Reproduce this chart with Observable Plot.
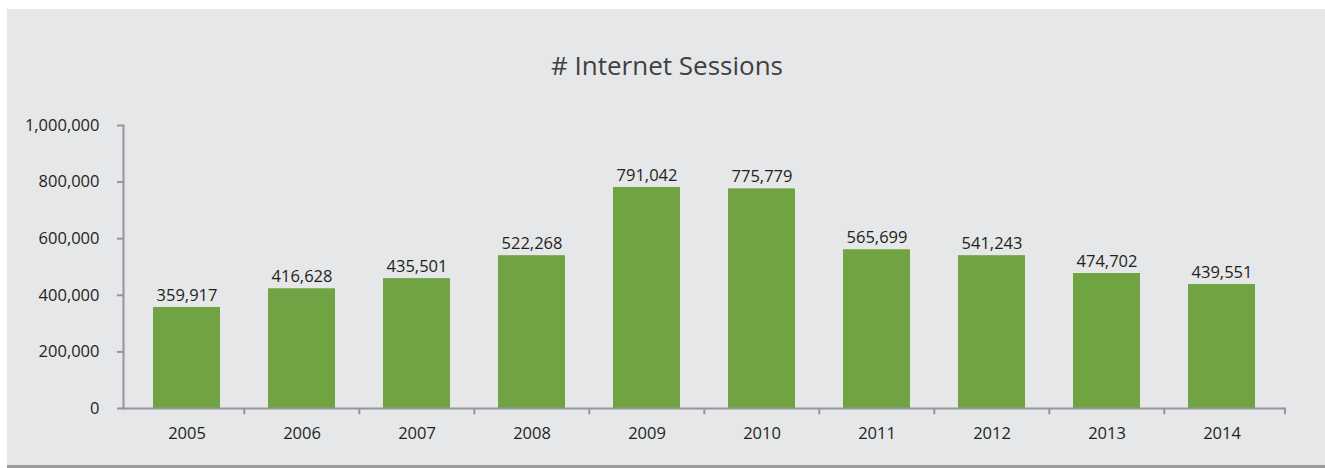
<!DOCTYPE html>
<html>
<head>
<meta charset="utf-8">
<script src="https://cdn.jsdelivr.net/npm/d3@7"></script>
<script src="https://cdn.jsdelivr.net/npm/@observablehq/plot@0.6"></script>
<style>
  html, body { margin: 0; padding: 0; background: #e6e7e8; overflow: hidden; }
  #wrap { position: relative; width: 1325px; height: 468px; overflow: hidden; background: #ffffff; }
  #panel { position: absolute; left: 7px; top: 9px; width: 1318px; height: 456px; background: #e6e7e8; border-bottom: 3px solid #9a9b9d; }
  #title { position: absolute; left: 0; width: 1334px; top: 47px; text-align: center;
           font-family: "Open Sans", sans-serif; font-size: 26px; color: #414042; line-height: 36px; }
  #chart { position: absolute; left: 0; top: 0; }
  #chart svg { background: transparent; }
</style>
</head>
<body>
<div id="wrap">
  <div id="panel"></div>
  <div id="title"># Internet Sessions</div>
  <div id="chart"></div>
</div>
<script>
const years = ["2005", "2006", "2007", "2008", "2009", "2010", "2011", "2012", "2013", "2014"];
// data labels printed above the bars
const sessions = [359917, 416628, 435501, 522268, 791042, 775779, 565699, 541243, 474702, 439551];
// bar heights as drawn in the picture
const barHeights = [357000, 423000, 459000, 540000, 781000, 776000, 561000, 540000, 477000, 438000];
const yTicks = [0, 200000, 400000, 600000, 800000, 1000000];

const data = years.map((y, i) => ({year: y, value: barHeights[i], label: sessions[i]}));
const fmt = d3.format(",");
const axisColor = "#939598";

const chart = Plot.plot({
  width: 1325,
  height: 468,
  marginLeft: 123,
  marginRight: 39,
  marginTop: 125,
  marginBottom: 60,
  style: {background: "transparent", fontFamily: "'Open Sans', sans-serif", fontSize: "16px", color: "#231f20"},
  x: {domain: years, range: [126.8, 1280.3], paddingInner: 0.42, paddingOuter: 0.21, label: null},
  y: {domain: [0, 1000000], label: null},
  marks: [
    Plot.barY(data, {x: "year", y: "value", fill: "#70a342"}),
    Plot.text(data, {x: "year", y: "value", text: d => fmt(d.label), lineAnchor: "middle", dy: -12, fill: "#231f20", fontSize: 16.5}),
    Plot.axisY({ticks: yTicks, tickFormat: fmt, tickSize: 6, tickPadding: 18, stroke: axisColor, strokeWidth: 2, fill: "#231f20", fontSize: 16.5, label: null}),
    Plot.axisX({tickSize: 0, tickPadding: 19, fill: "#231f20", fontSize: 16.5, label: null}),
    Plot.ruleX(years.slice(1), {x: d => d, y1: 0, y2: -22000, dx: -57.7, stroke: axisColor, strokeWidth: 2}),
    Plot.ruleX(years.slice(-1), {x: d => d, y1: 0, y2: -22000, dx: 63, stroke: axisColor, strokeWidth: 2}),
    Plot.ruleY([0], {stroke: axisColor, strokeWidth: 2}),
    Plot.frame({anchor: "left", stroke: axisColor, strokeWidth: 2})
  ]
});
document.getElementById("chart").appendChild(chart);
</script>
</body>
</html>
